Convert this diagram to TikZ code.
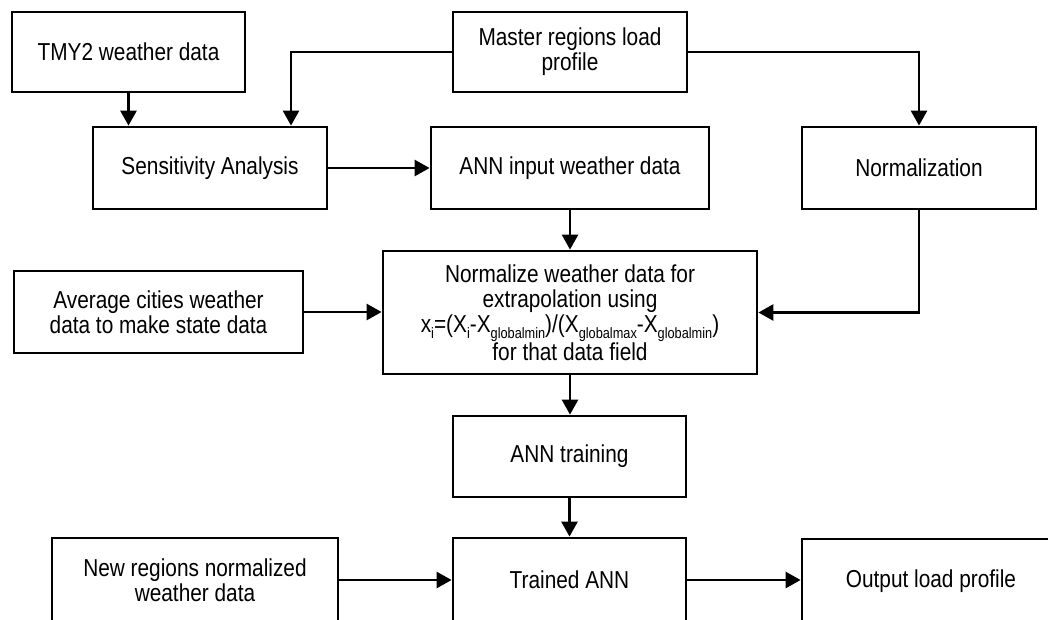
\documentclass[tikz,border=0pt]{standalone}
\usepackage{fontspec}
\setmainfont{Liberation Sans}[FakeStretch=0.85]
\usetikzlibrary{arrows.meta}
\newcommand\sbx[1]{\raisebox{-6pt}{\fontsize{15}{15}\selectfont #1}}
\begin{document}
\begin{tikzpicture}[x=1pt,y=-1pt,
  box/.style={draw=black,line width=2.8pt,align=center,inner sep=0pt,
    font=\fontsize{24.5}{25}\selectfont},
  arr/.style={line width=2.7pt,-{Triangle[length=15pt,width=16pt]}}]
\useasboundingbox (0,0) rectangle (1048,619);
\clip (0,0) rectangle (1048,619);
\fill[white] (0,0) rectangle (1048,619);
% boxes
\node[box,minimum width=233pt,minimum height=80pt] (tmy) at (128.5,52) {TMY2 weather data};
\node[box,minimum width=234pt,minimum height=80pt] (master) at (570,52) {Master regions load\\profile};
\node[box,minimum width=234pt,minimum height=82pt] (sens) at (210,168) {Sensitivity Analysis};
\node[box,minimum width=278pt,minimum height=82pt] (anninput) at (570,168) {ANN input weather data};
\node[box,minimum width=234pt,minimum height=82pt] (normz) at (919,168) {Normalization};
\node[box,minimum width=289pt,minimum height=82pt] (avg) at (158.5,312) {Average cities weather\\data to make state data};
\node[box,minimum width=374pt,minimum height=123pt] (normbox) at (570,312.5) {Normalize weather data for\\extrapolation using\\x\sbx{i}=(X\sbx{i}-X\sbx{globalmin})/(X\sbx{globalmax}-X\sbx{globalmin})\\for that data field};
\node[box,minimum width=233pt,minimum height=81pt] (training) at (569.5,456.5) {ANN training};
\node[box,minimum width=233pt,minimum height=84pt] (trained) at (569.5,580) {Trained ANN};
\node[box,minimum width=286pt,minimum height=84pt] (newreg) at (195,580) {New regions normalized\\weather data};
\node[box,minimum width=258pt,minimum height=84pt] (output) at (931,581) {Output load profile};
% connectors
\draw[arr] (tmy.south) -- (tmy.south |- sens.north);
\draw[arr] (master.west) -| ([xshift=81pt]sens.north);
\draw[arr] (master.east) -| (normz.north);
\draw[arr] (sens.east) -- (anninput.west);
\draw[arr] (anninput.south) -- (normbox.north);
\draw[arr] (normz.south) |- (normbox.east);
\draw[arr] (avg.east) -- (avg.east -| normbox.west);
\draw[arr] (normbox.south) -- (normbox.south |- training.north);
\draw[arr] (training.south) -- (trained.north);
\draw[arr] (newreg.east) -- (trained.west);
\draw[arr] (trained.east) -- (trained.east -| output.west);
\end{tikzpicture}
\end{document}
